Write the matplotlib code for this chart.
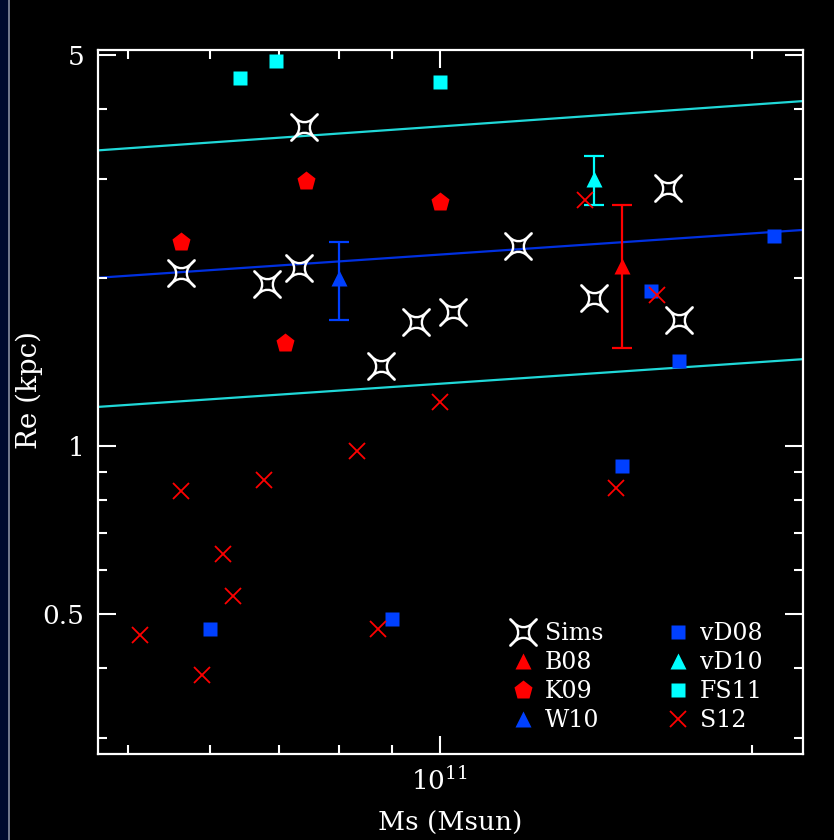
import matplotlib
matplotlib.use("Agg")
import matplotlib.pyplot as plt
from matplotlib.path import Path
from matplotlib.patches import Rectangle
from matplotlib.lines import Line2D

# ---- data (Ms in Msun, Re in kpc) ----
sims_m = [5.62e10, 6.81e10, 7.31e10, 7.40e10, 8.77e10, 9.48e10, 1.03e11, 1.19e11, 1.41e11, 1.66e11, 1.70e11]
sims_re = [2.04, 1.95, 2.08, 3.72, 1.39, 1.67, 1.74, 2.28, 1.84, 2.89, 1.68]

b08_m = [1.50e11]
b08_re = [2.10]
b08_err = [0.60]

k09_m = [5.62e10, 7.43e10, 1.00e11, 7.08e10]
k09_re = [2.32, 2.98, 2.73, 1.53]

w10_m = [8.0e10]
w10_re = [2.00]
w10_err = [0.32]

vd08_m = [2.10e11, 1.60e11, 1.70e11, 1.50e11, 6.0e10, 9.0e10]
vd08_re = [2.38, 1.89, 1.42, 0.92, 0.47, 0.49]

vd10_m = [1.41e11]
vd10_re = [3.00]
vd10_err = [0.30]

fs11_m = [6.41e10, 6.95e10, 1.00e11]
fs11_re = [4.56, 4.88, 4.48]

s12_m = [1.38e11, 1.62e11, 1.00e11, 8.31e10, 6.76e10, 5.62e10, 6.17e10, 6.31e10,
         5.13e10, 5.89e10, 8.71e10, 1.48e11]
s12_re = [2.76, 1.86, 1.20, 0.98, 0.87, 0.83, 0.64, 0.54, 0.46, 0.39, 0.47, 0.84]

# relation + scatter, read at the two frame edges
rel_m = [4.68e10, 2.24e11]
rel_mid = [2.00, 2.435]
rel_hi = [3.38, 4.14]
rel_lo = [1.175, 1.43]

RED = '#ff0000'
BLUE = '#0040ff'
CYAN = '#00ffff'
WHITE = 'white'

plt.rcParams['font.family'] = 'DejaVu Serif'
plt.rcParams['mathtext.fontset'] = 'dejavuserif'

# concave four-pointed star, points on the diagonals
c = 0.2
star = Path([(1, 1), (0, -c), (-1, 1), (c, 0), (-1, -1), (0, c), (1, -1), (-c, 0), (1, 1), (1, 1)],
            [Path.MOVETO, Path.CURVE3, Path.CURVE3, Path.CURVE3, Path.CURVE3,
             Path.CURVE3, Path.CURVE3, Path.CURVE3, Path.CURVE3, Path.CLOSEPOLY])

fig = plt.figure(figsize=(8.34, 8.40), dpi=100, facecolor='black')
fig.patches.append(Rectangle((0, 0), 8 / 834, 1, transform=fig.transFigure,
                             facecolor='#000a2e', edgecolor='none', zorder=-5))
fig.lines.append(Line2D([8.5 / 834, 8.5 / 834], [0, 1], transform=fig.transFigure,
                        color='#8890a8', lw=1.2))

ax = fig.add_axes([98.3 / 834, 1 - 753.7 / 840, 704.4 / 834, 703.7 / 840])
ax.set_facecolor('black')
ax.set_xscale('log')
ax.set_yscale('log')
ax.set_xlim(4.68e10, 2.24e11)
ax.set_ylim(0.2816, 5.11)

ax.plot(rel_m, rel_hi, color='#20d8d8', lw=1.6, zorder=1)
ax.plot(rel_m, rel_lo, color='#20d8d8', lw=1.6, zorder=1)
ax.plot(rel_m, rel_mid, color='#0030e0', lw=1.6, zorder=1)

ax.errorbar(b08_m, b08_re, yerr=b08_err, fmt='none', ecolor=RED, elinewidth=1.6, capsize=7, capthick=1.6)
ax.errorbar(w10_m, w10_re, yerr=w10_err, fmt='none', ecolor=BLUE, elinewidth=1.6, capsize=7, capthick=1.6)
ax.errorbar(vd10_m, vd10_re, yerr=vd10_err, fmt='none', ecolor=CYAN, elinewidth=1.6, capsize=7, capthick=1.6)

ax.plot(sims_m, sims_re, ls='none', marker=star, ms=19, mfc='none', mec=WHITE, mew=1.7, label='Sims')
ax.plot(b08_m, b08_re, ls='none', marker='^', ms=11, color=RED, mec='none', label='B08')
ax.plot(k09_m, k09_re, ls='none', marker='p', ms=14, color=RED, mec='none', label='K09')
ax.plot(w10_m, w10_re, ls='none', marker='^', ms=11, color=BLUE, mec='none', label='W10')
ax.plot(vd08_m, vd08_re, ls='none', marker='s', ms=10, color=BLUE, mec='none', label='vD08')
ax.plot(vd10_m, vd10_re, ls='none', marker='^', ms=11, color=CYAN, mec='none', label='vD10')
ax.plot(fs11_m, fs11_re, ls='none', marker='s', ms=10, color=CYAN, mec='none', label='FS11')
ax.plot(s12_m, s12_re, ls='none', marker='x', ms=11, color=RED, mew=1.3, label='S12')

leg = ax.legend(ncol=2, loc='upper left', bbox_to_anchor=(0.5823, 0.187), frameon=False,
                fontsize=17, handlelength=1.2, handletextpad=0.35, columnspacing=2.54,
                labelspacing=0.25, borderpad=0, borderaxespad=0)
for t in leg.get_texts():
    t.set_color(WHITE)

# ticks
ax.set_xticks([1e11])
ax.set_xticklabels([r'$10^{11}$'])
ax.set_xticks([5e10, 6e10, 7e10, 8e10, 9e10, 2e11], minor=True)
ax.set_xticklabels([], minor=True)
ax.set_yticks([0.5, 1, 5])
ax.set_yticklabels(['0.5', '1', '5'])
ax.set_yticks([0.3, 0.4, 0.6, 0.7, 0.8, 0.9, 2, 3, 4], minor=True)
ax.set_yticklabels([], minor=True)
ax.tick_params(which='both', direction='in', top=True, right=True, colors=WHITE,
               labelcolor=WHITE, labelsize=19, width=1.5)
ax.tick_params(which='major', length=13, pad=10)
ax.tick_params(which='minor', length=6.5)
for sp in ax.spines.values():
    sp.set_color(WHITE)
    sp.set_linewidth(1.6)

fig.text(450 / 834, 1 - 823 / 840, 'Ms (Msun)', color=WHITE, fontsize=19, ha='center', va='center')
fig.text(29 / 834, 1 - 390 / 840, 'Re (kpc)', color=WHITE, fontsize=20, ha='center', va='center',
         rotation=90)

fig.savefig('out.png', dpi=100, facecolor='black')
